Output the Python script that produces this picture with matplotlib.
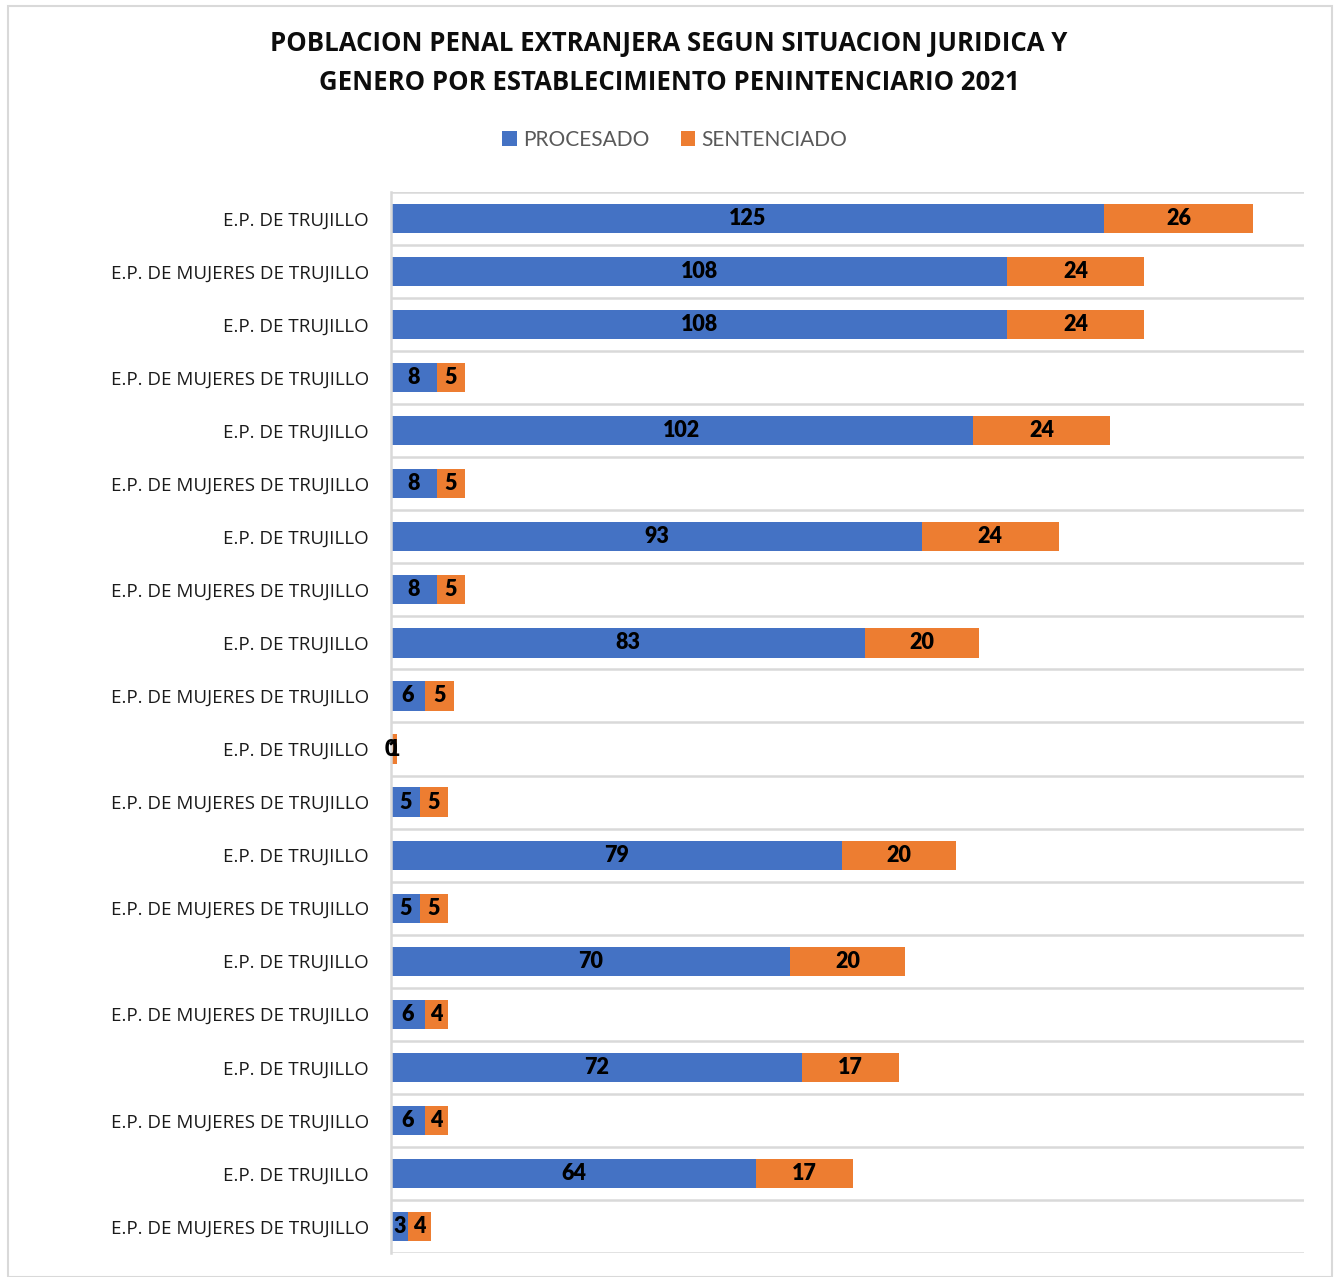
import matplotlib
matplotlib.use("Agg")
import matplotlib.pyplot as plt
import numpy as np

categories = [
    "E.P. DE TRUJILLO", "E.P. DE MUJERES DE TRUJILLO",
    "E.P. DE TRUJILLO", "E.P. DE MUJERES DE TRUJILLO",
    "E.P. DE TRUJILLO", "E.P. DE MUJERES DE TRUJILLO",
    "E.P. DE TRUJILLO", "E.P. DE MUJERES DE TRUJILLO",
    "E.P. DE TRUJILLO", "E.P. DE MUJERES DE TRUJILLO",
    "E.P. DE TRUJILLO", "E.P. DE MUJERES DE TRUJILLO",
    "E.P. DE TRUJILLO", "E.P. DE MUJERES DE TRUJILLO",
    "E.P. DE TRUJILLO", "E.P. DE MUJERES DE TRUJILLO",
    "E.P. DE TRUJILLO", "E.P. DE MUJERES DE TRUJILLO",
    "E.P. DE TRUJILLO", "E.P. DE MUJERES DE TRUJILLO",
]
procesado = [125, 108, 108, 8, 102, 8, 93, 8, 83, 6, 0, 5, 79, 5, 70, 6, 72, 6, 64, 3]
sentenciado = [26, 24, 24, 5, 24, 5, 24, 5, 20, 5, 1, 5, 20, 5, 20, 4, 17, 4, 17, 4]

title = "POBLACION PENAL EXTRANJERA SEGUN SITUACION JURIDICA Y\nGENERO POR ESTABLECIMIENTO PENINTENCIARIO 2021"

plt.rcParams['font.family'] = ['Lato', 'DejaVu Sans']

BLUE = "#4472C4"
ORANGE = "#ED7D31"
GRID = "#D9D9D9"

fig = plt.figure(figsize=(13.38, 12.77), dpi=100)
ax = fig.add_axes([391/1338, 1-1253/1277, (1304-391)/1338, (1253-192)/1277])

n = len(categories)
y = np.arange(n)
h = 0.55
b1 = ax.barh(y, procesado, height=h, color=BLUE, label="PROCESADO")
b2 = ax.barh(y, sentenciado, left=procesado, height=h, color=ORANGE, label="SENTENCIADO")

ax.bar_label(b1, labels=[str(v) for v in procesado], label_type='center',
             fontsize=15.5, fontweight='heavy', color='black')
ax.bar_label(b2, labels=[str(v) for v in sentenciado], label_type='center',
             fontsize=15.5, fontweight='heavy', color='black')

ax.set_xlim(0, 160)
ax.set_ylim(n - 0.5, -0.5)
ax.set_yticks(y)
ax.set_yticklabels(categories, fontsize=13.5, color='#1A1A1A', family=['Open Sans', 'DejaVu Sans'])
ax.tick_params(axis='y', length=0, pad=16)
ax.set_xticks([])

# category boundary gridlines
ax.set_yticks(np.arange(-0.5, n, 1), minor=True)
ax.tick_params(axis='y', which='minor', length=0)
ax.grid(True, axis='y', which='minor', color=GRID, linewidth=1.8)
ax.set_axisbelow(True)

for s in ['top', 'right', 'bottom']:
    ax.spines[s].set_visible(False)
ax.spines['left'].set_color(GRID)
ax.spines['left'].set_linewidth(1.8)

fig.text(669/1338, 1-63/1277, title, ha='center', va='center', fontsize=18.5,
         fontweight='bold', color='#0D0D0D', linespacing=1.6,
         family=['Open Sans', 'DejaVu Sans'])

fig.legend(handles=[b1, b2], loc='center', bbox_to_anchor=(675/1338, 1-140/1277),
           ncol=2, frameon=False, fontsize=15, handlelength=0.7, handleheight=0.7,
           handletextpad=0.3, columnspacing=1.5, labelcolor='#595959')

# figure border
fig.add_artist(plt.Rectangle((8/1338, 0.0), (1332-8)/1338, 1-6/1277,
                             transform=fig.transFigure, fill=False,
                             edgecolor='#D9D9D9', linewidth=1.5))

fig.savefig("out.png", dpi=100)
